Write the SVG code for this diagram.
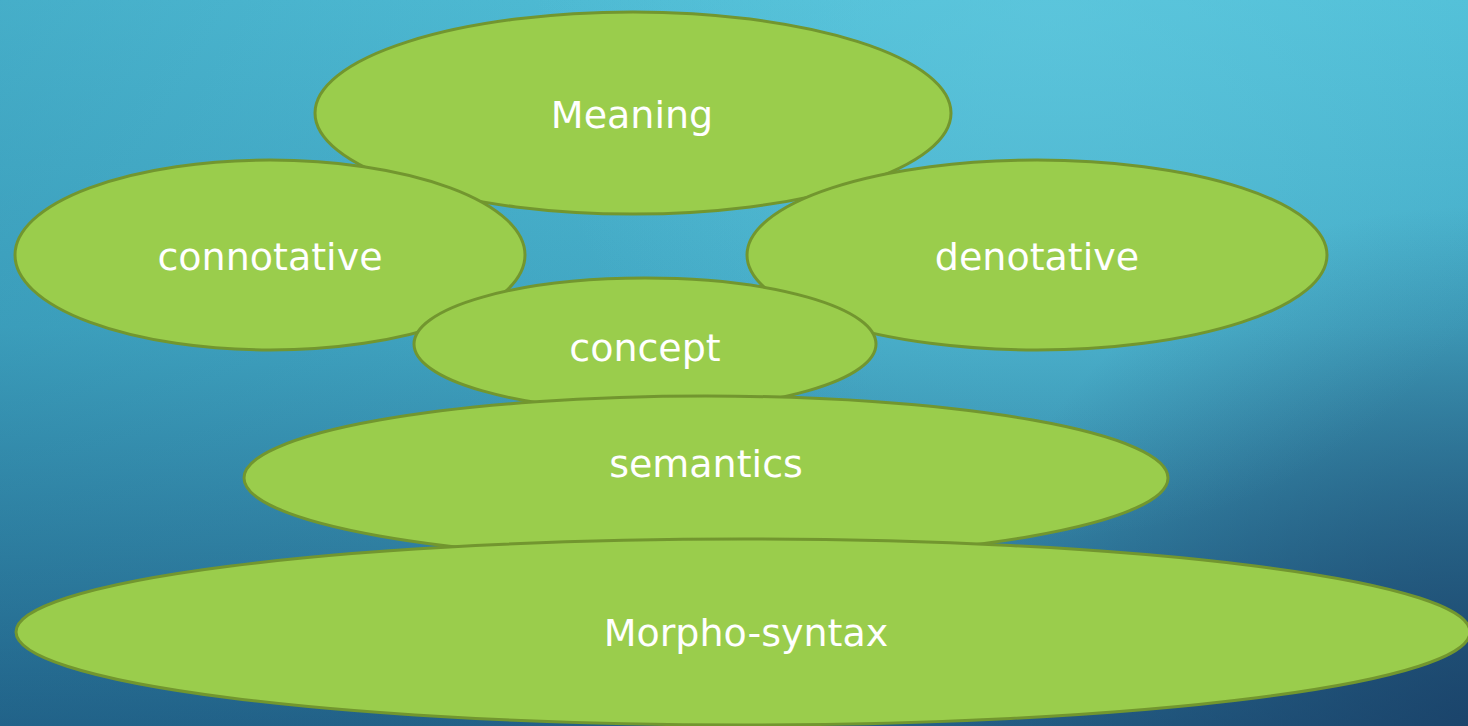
<svg xmlns="http://www.w3.org/2000/svg" width="1468" height="726" viewBox="0 0 1468 726">
<defs>
<linearGradient id="bg" x1="0" y1="0" x2="0" y2="1">
<stop offset="0" stop-color="#52c0d8"/>
<stop offset="0.45" stop-color="#44aac6"/>
<stop offset="1" stop-color="#235f86"/>
</linearGradient>
<linearGradient id="ov1" x1="0" y1="0" x2="1" y2="0">
<stop offset="0" stop-color="#1a6f93" stop-opacity="0.22"/>
<stop offset="0.6" stop-color="#1a6f93" stop-opacity="0"/>
</linearGradient>
<radialGradient id="ov2" gradientUnits="userSpaceOnUse" cx="1468" cy="726" r="520">
<stop offset="0" stop-color="#183b62" stop-opacity="0.75"/>
<stop offset="1" stop-color="#183b62" stop-opacity="0"/>
</radialGradient>
<radialGradient id="ov3" gradientUnits="userSpaceOnUse" cx="1050" cy="20" r="520">
<stop offset="0" stop-color="#66cbe0" stop-opacity="0.45"/>
<stop offset="1" stop-color="#66cbe0" stop-opacity="0"/>
</radialGradient>
<style>
.n ellipse{fill:#9acd4c;stroke:#72962f;stroke-width:3}
.n text{fill:#ffffff;font-family:"DejaVu Sans",sans-serif;font-size:38px;text-anchor:middle;dominant-baseline:central}
</style>
</defs>
<rect width="1468" height="726" fill="url(#bg)"/>
<rect width="1468" height="726" fill="url(#ov1)"/>
<rect width="1468" height="726" fill="url(#ov2)"/>
<rect width="1468" height="726" fill="url(#ov3)"/>
<g id="connectors"/>
<g id="meaning" class="n"><ellipse cx="633" cy="113" rx="318" ry="101"/><text x="632" y="115">Meaning</text></g>
<g id="connotative" class="n"><ellipse cx="270" cy="255" rx="255" ry="95"/><text x="270" y="257">connotative</text></g>
<g id="denotative" class="n"><ellipse cx="1037" cy="255" rx="290" ry="95"/><text x="1037" y="257">denotative</text></g>
<g id="concept" class="n"><ellipse cx="645" cy="344" rx="231" ry="66"/><text x="645" y="348">concept</text></g>
<g id="semantics" class="n"><ellipse cx="706" cy="478" rx="462" ry="82"/><text x="706" y="464">semantics</text></g>
<g id="morpho" class="n"><ellipse cx="743" cy="632" rx="727" ry="93"/><text x="746" y="633">Morpho-syntax</text></g>
</svg>
